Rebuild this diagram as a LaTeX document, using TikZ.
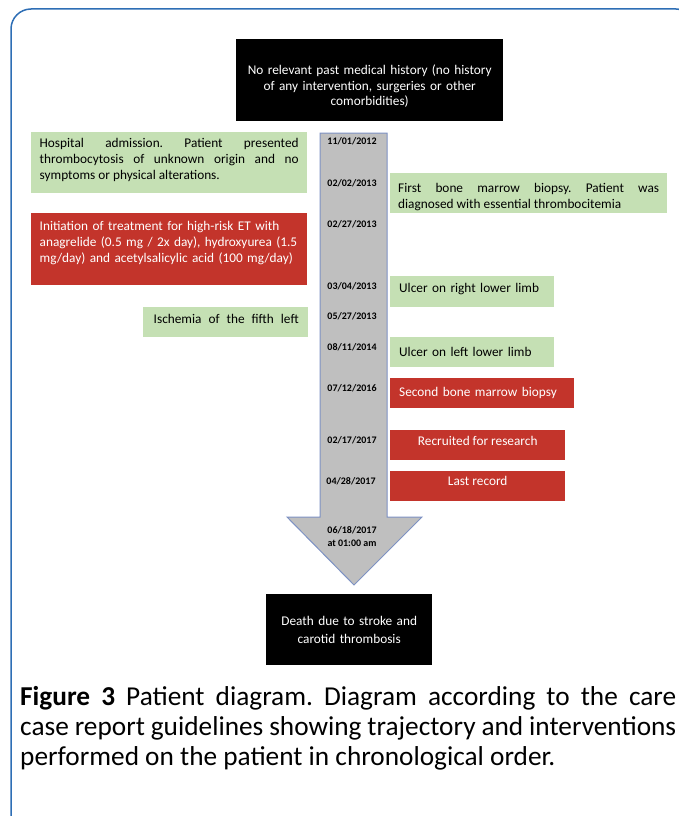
\documentclass[tikz,border=0pt]{standalone}
\usepackage{fontspec}
\setmainfont{Carlito}
\frenchspacing
\definecolor{gfill}{RGB}{197,224,180}
\definecolor{rfill}{RGB}{195,52,43}
\definecolor{afill}{RGB}{191,191,191}
\definecolor{aline}{RGB}{125,145,195}
\definecolor{framecol}{RGB}{46,110,181}
\begin{document}
\begin{tikzpicture}[x=1pt,y=-1pt,
  box/.style={inner sep=0pt, anchor=north west, font=\fontsize{13.3}{16}\selectfont},
  gbox/.style={box, fill=gfill, text=black},
  rbox/.style={box, fill=rfill, text=white},
  kbox/.style={box, fill=black, text=white},
  datelbl/.style={font=\bfseries\fontsize{10}{13}\selectfont, inner sep=0pt, align=center, text=black},
]
\useasboundingbox (0,0) rectangle (679,816);
\begin{scope}
  \clip (0,0) rectangle (679,816);
  \draw[framecol, line width=1.5pt, rounded corners=20pt] (11,9) rectangle (696,836);
\end{scope}

% top black box
\node[kbox, minimum width=267pt, minimum height=82pt, text width=255pt, align=center,
  font=\fontsize{13.3}{15.5}\selectfont] (hist) at (236,39)
  {\rule{0pt}{22pt}No relevant past medical history (no history\\of any intervention, surgeries or other\\comorbidities)};

% arrow
\draw[aline, fill=afill, line width=1pt] (320,133) -- (387,133) -- (387,517) -- (422,517)
  -- (354,585) -- (287,517) -- (320,517) -- cycle;

% dates
\node[datelbl] (d1) at (352,141) {11/01/2012};
\node[datelbl] (d2) at (352,183) {02/02/2013};
\node[datelbl] (d3) at (352,224) {02/27/2013};
\node[datelbl] (d4) at (352,286) {03/04/2013};
\node[datelbl] (d5) at (352,316) {05/27/2013};
\node[datelbl] (d6) at (352,347) {08/11/2014};
\node[datelbl] (d7) at (352,388) {07/12/2016};
\node[datelbl] (d8) at (352,440) {02/17/2017};
\node[datelbl] (d9) at (351,481) {04/28/2017};
\node[datelbl] (d10) at (352,537) {06/18/2017\\at 01:00 am};

% left boxes
\node[gbox, minimum width=276pt, minimum height=61pt, text width=259pt, align=justify] (adm) at (31,132)
  {Hospital admission. Patient presented\linebreak thrombocytosis of unknown origin and no\linebreak symptoms or physical alterations.\rule[-7pt]{0pt}{1pt}};
\node[rbox, minimum width=276pt, minimum height=72pt, text width=259pt, align=left] (treat) at (31,213)
  {Initiation of treatment for high-risk ET with\\anagrelide (0.5 mg / 2x day), hydroxyurea (1.5\\mg/day) and acetylsalicylic acid (100 mg/day)\rule[-15pt]{0pt}{1pt}};
\node[gbox, minimum width=165pt, minimum height=30pt, text depth=6pt] (isch) at (143,307)
  {\hbox to 146pt{\hspace{1pt}Ischemia\hfill of\hfill the\hfill fifth\hfill left}};

% right boxes
\node[gbox, minimum width=277pt, minimum height=40pt, text width=261pt, align=justify] (bio1) at (390,173)
  {\rule{0pt}{16pt}First bone marrow biopsy. Patient was\linebreak diagnosed with essential thrombocitemia};
\node[gbox, minimum width=164pt, minimum height=31pt, text width=146pt, align=left] (ulr) at (390,276)
  {Ulcer on right lower limb\rule[-7pt]{0pt}{1pt}};
\node[gbox, minimum width=164pt, minimum height=30pt, text width=146pt, align=left] (ull) at (390,337)
  {Ulcer on left lower limb};
\node[rbox, minimum width=184pt, minimum height=30pt, text width=166pt, align=left] (bio2) at (390,378)
  {Second bone marrow biopsy};
\node[rbox, minimum width=175pt, minimum height=30pt, text height=9.5pt, text depth=9pt] (recr) at (390,430)
  {Recruited for research};
\node[rbox, minimum width=175pt, minimum height=30pt, text height=9.5pt, text depth=10pt] (last) at (390,471)
  {Last record};

% bottom black box
\node[kbox, minimum width=166pt, minimum height=71pt, text width=150pt, align=center,
  font=\fontsize{13.3}{18}\selectfont] (death) at (266,594)
  {Death due to stroke and\\carotid thrombosis};

% caption
\node[inner sep=0pt, anchor=north west, text width=656pt, align=justify,
  font=\fontsize{27.3}{30}\selectfont] (cap) at (20,686)
  {\textbf{Figure 3} Patient diagram. Diagram according to the care\linebreak case report guidelines showing trajectory and interventions\linebreak performed on the patient in chronological order.};
\end{tikzpicture}
\end{document}
